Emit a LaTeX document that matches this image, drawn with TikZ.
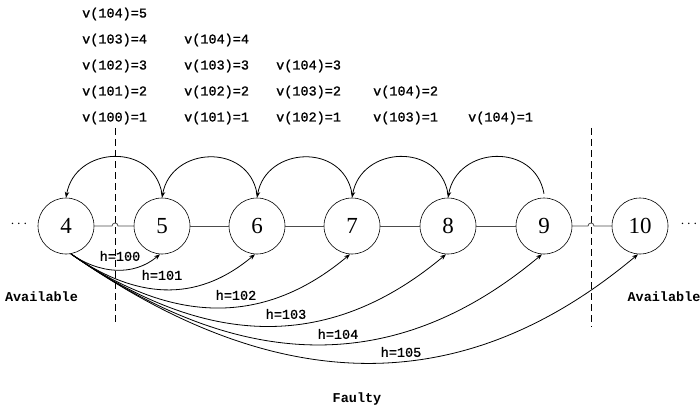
\documentclass[tikz,border=0pt]{standalone}
\usepackage{fontspec}
\newfontfamily\labfont[FakeBold=1.2]{Liberation Mono}
\newfontfamily\labbold{Liberation Mono Bold}
\newfontfamily\numfont{Liberation Serif}
\usetikzlibrary{arrows.meta}
\begin{document}
\begin{tikzpicture}[x=1pt,y=1pt,
  state/.style={circle,draw,line width=0.6pt,minimum size=56pt,inner sep=0pt,font=\numfont\fontsize{23}{26}\selectfont},
  edge/.style={draw=black!70,line width=0.8pt},
  arr/.style={line width=0.8pt,-{Stealth[length=6pt,width=4.5pt]}},
  vlab/.style={anchor=west,font=\labfont\fontsize{13.5}{16}\selectfont,inner sep=0pt},
  hlab/.style={font=\labfont\fontsize{13.5}{16}\selectfont,inner sep=0pt},
  big/.style={font=\labbold\fontsize{13.5}{16}\selectfont,inner sep=0pt},
  dots/.style={font=\fontsize{14}{16}\selectfont,inner sep=0pt},
  divider/.style={dash pattern=on 7pt off 4pt,line width=0.7pt}]
\useasboundingbox (0,0) rectangle (700,-414);

% states
\node[state] (n4) at (66,-226) {4};
\node[state] (n5) at (162,-226) {5};
\node[state] (n6) at (257,-226) {6};
\node[state] (n7) at (352,-226) {7};
\node[state] (n8) at (448,-226) {8};
\node[state] (n9) at (544,-226) {9};
\node[state] (n10) at (640,-226) {10};
\node[dots] (dl) at (19,-224) {$\cdots$};
\node[dots] (dr) at (689,-224) {$\cdots$};

% dividers
\coordinate (dLt) at (115,-128);
\coordinate (dLb) at (115,-323);
\coordinate (dRt) at (591,-128);
\coordinate (dRb) at (591,-327);
\draw[divider] (dLt) -- (dLb);
\draw[divider] (dRt) -- (dRb);

% horizontal edges
\coordinate (hL) at (115,-226);
\coordinate (hR) at (591,-226);
\draw[edge] (n4.east) -- ([xshift=-3pt]hL) arc[start angle=180,end angle=0,radius=3] -- (n5.west);
\draw[edge] (n5) -- (n6);
\draw[edge] (n6) -- (n7);
\draw[edge] (n7) -- (n8);
\draw[edge] (n8) -- (n9);
\draw[edge] (n9.east) -- ([xshift=-3pt]hR) arc[start angle=180,end angle=0,radius=3] -- (n10.west);

% top arcs
\draw[arr] ([yshift=4pt]n5.north) to[out=100,in=80,looseness=1.4] (n4.north);
\draw[arr] ([yshift=4pt]n6.north) to[out=100,in=80,looseness=1.4] (n5.north);
\draw[arr] ([yshift=4pt]n7.north) to[out=100,in=80,looseness=1.4] (n6.north);
\draw[arr] ([yshift=4pt]n8.north) to[out=100,in=80,looseness=1.4] (n7.north);
\draw[arr] ([yshift=4pt]n9.north) to[out=100,in=80,looseness=1.4] (n8.north);

% bottom arcs
\draw[arr] (n4.-80) to[out=-35,in=220,looseness=1.0] (n5.-94);
\draw[arr] (n4.-80) to[out=-35,in=220,looseness=1.08] (n6.-94);
\draw[arr] (n4.-80) to[out=-35,in=220,looseness=1.08] (n7.-94);
\draw[arr] (n4.-80) to[out=-35,in=220,looseness=1.08] (n8.-94);
\draw[arr] (n4.-80) to[out=-35,in=220,looseness=1.08] (n9.-94);
\draw[arr] (n4.-80) to[out=-35,in=220,looseness=1.08] (n10.-94);

% h labels
\node[hlab] (h0) at (120,-256) {h=100};
\node[hlab] (h1) at (162,-275) {h=101};
\node[hlab] (h2) at (236,-295) {h=102};
\node[hlab] (h3) at (286,-314) {h=103};
\node[hlab] (h4) at (338,-334) {h=104};
\node[hlab] (h5) at (401,-352) {h=105};

% v labels
\node[vlab] (a1) at (82,-14) {v(104)=5};
\node[vlab] (a2) at (82,-40) {v(103)=4};
\node[vlab] (a3) at (82,-66) {v(102)=3};
\node[vlab] (a4) at (82,-92) {v(101)=2};
\node[vlab] (a5) at (82,-118) {v(100)=1};
\node[vlab] (b2) at (184,-40) {v(104)=4};
\node[vlab] (b3) at (184,-66) {v(103)=3};
\node[vlab] (b4) at (184,-92) {v(102)=2};
\node[vlab] (b5) at (184,-118) {v(101)=1};
\node[vlab] (c3) at (276,-66) {v(104)=3};
\node[vlab] (c4) at (276,-92) {v(103)=2};
\node[vlab] (c5) at (276,-118) {v(102)=1};
\node[vlab] (d4) at (373,-92) {v(104)=2};
\node[vlab] (d5) at (373,-118) {v(103)=1};
\node[vlab] (e5) at (468,-118) {v(104)=1};

% region labels
\node[big] (avl) at (41.5,-297) {Available};
\node[big] (avr) at (664,-297) {Available};
\node[big] (fty) at (357,-399) {Faulty};
\end{tikzpicture}
\end{document}
